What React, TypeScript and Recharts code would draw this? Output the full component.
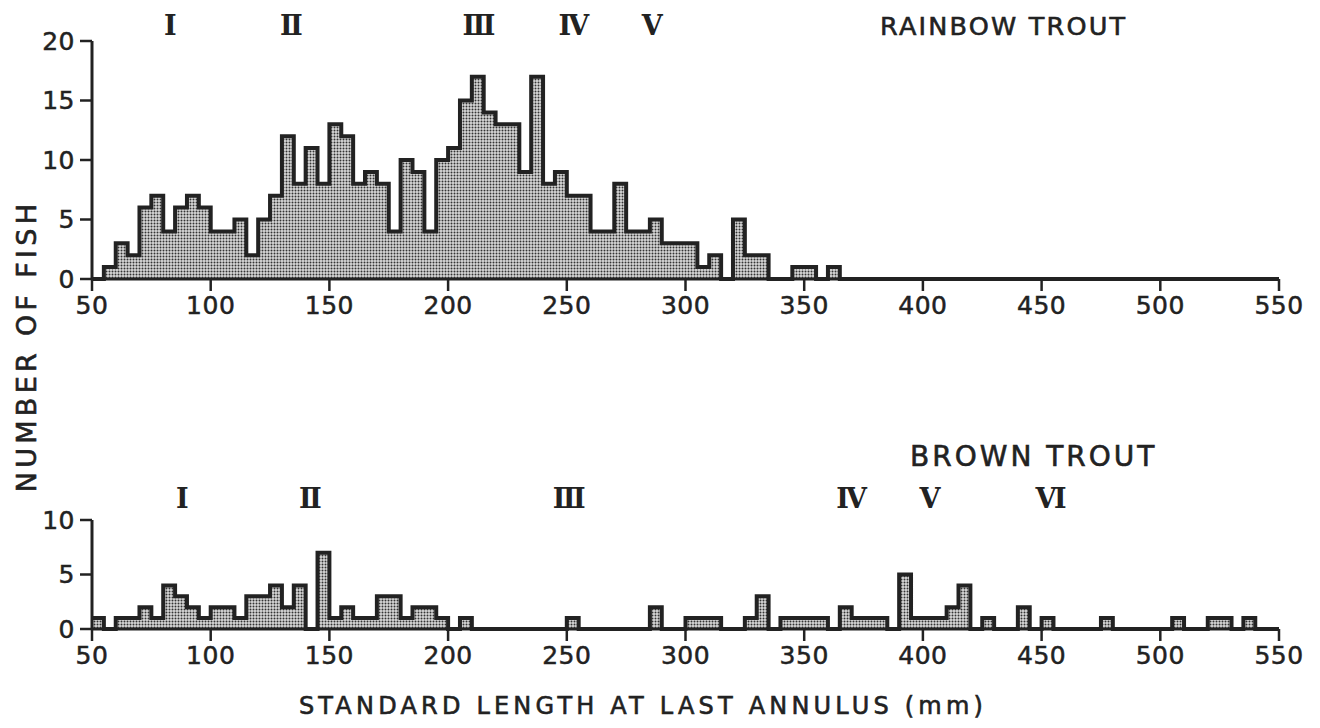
import React from 'react';
import { AreaChart, Area, XAxis, YAxis, ReferenceLine } from 'recharts';

// Bin lower edges (mm), 5 mm bins from 50 to 550
const binEdges: number[] = Array.from({ length: 101 }, (_, i) => 50 + 5 * i);

// Rainbow trout counts per 5-mm bin, starting at 50-55 mm
const rainbowCounts = [
  0, 1, 3, 2, 6, 7, 4, 6, 7, 6,
  4, 4, 5, 2, 5, 7, 12, 8, 11, 8,
  13, 12, 8, 9, 8, 4, 10, 9, 4, 10,
  11, 15, 17, 14, 13, 13, 9, 17, 8, 9,
  7, 7, 4, 4, 8, 4, 4, 5, 3, 3,
  3, 1, 2, 0, 5, 2, 2, 0, 0, 1,
  1, 0, 1, 0, 0, 0, 0, 0, 0, 0,
  0, 0, 0, 0, 0, 0, 0, 0, 0, 0,
  0, 0, 0, 0, 0, 0, 0, 0, 0, 0,
  0, 0, 0, 0, 0, 0, 0, 0, 0, 0,
];

// Brown trout counts per 5-mm bin, starting at 50-55 mm
const brownCounts = [
  1, 0, 1, 1, 2, 1, 4, 3, 2, 1,
  2, 2, 1, 3, 3, 4, 2, 4, 0, 7,
  1, 2, 1, 1, 3, 3, 1, 2, 2, 1,
  0, 1, 0, 0, 0, 0, 0, 0, 0, 0,
  1, 0, 0, 0, 0, 0, 0, 2, 0, 0,
  1, 1, 1, 0, 0, 1, 3, 0, 1, 1,
  1, 1, 0, 2, 1, 1, 1, 0, 5, 1,
  1, 1, 2, 4, 0, 1, 0, 0, 2, 0,
  1, 0, 0, 0, 0, 1, 0, 0, 0, 0,
  0, 1, 0, 0, 1, 1, 0, 1, 0, 0,
];

const xTicks = [50, 100, 150, 200, 250, 300, 350, 400, 450, 500, 550];
const rainbowYTicks = [0, 5, 10, 15, 20];
const brownYTicks = [0, 5, 10];

// Age-class (annulus) markers, in mm
const rainbowAges = [
  { label: 'Ⅰ', x: 83 },
  { label: 'Ⅱ', x: 134 },
  { label: 'Ⅲ', x: 213 },
  { label: 'Ⅳ', x: 253 },
  { label: 'Ⅴ', x: 286 },
];
const brownAges = [
  { label: 'Ⅰ', x: 88 },
  { label: 'Ⅱ', x: 142 },
  { label: 'Ⅲ', x: 251 },
  { label: 'Ⅳ', x: 370 },
  { label: 'Ⅴ', x: 403 },
  { label: 'Ⅵ', x: 454 },
];

const rainbowData = binEdges.map((x, i) => ({ x, n: rainbowCounts[i] ?? 0 }));
const brownData = binEdges.map((x, i) => ({ x, n: brownCounts[i] ?? 0 }));

const INK = '#222';
const FONT = '"DejaVu Sans", sans-serif';
const tickStyle = {
  fontSize: 25,
  fontFamily: FONT,
  fill: INK,
  stroke: INK,
  strokeWidth: 0.5,
  letterSpacing: 0.5,
};

function Dots() {
  return (
    <defs>
      <pattern id="stipple" width="3" height="3" patternUnits="userSpaceOnUse">
        <rect width="3" height="3" fill="#d8d8d8" />
        <circle cx="1.5" cy="1.5" r="1" fill="#333" />
      </pattern>
    </defs>
  );
}

function Panel({
  data,
  yTicks,
  yMax,
  height,
  marginTop,
  ages,
  ageOffset,
}: {
  data: { x: number; n: number }[];
  yTicks: number[];
  yMax: number;
  height: number;
  marginTop: number;
  ages: { label: string; x: number }[];
  ageOffset: number;
}) {
  return (
    <AreaChart
      width={1320}
      height={height}
      data={data}
      margin={{ top: marginTop, right: 41, bottom: 0, left: 0 }}
    >
      {Dots()}
      <XAxis
        dataKey="x"
        type="number"
        domain={[50, 550]}
        ticks={xTicks}
        interval={0}
        height={41}
        tickSize={12}
        tickMargin={5}
        axisLine={{ stroke: INK, strokeWidth: 3 }}
        tickLine={{ stroke: INK, strokeWidth: 2.5 }}
        tick={tickStyle}
      />
      <YAxis
        type="number"
        domain={[0, yMax]}
        ticks={yTicks}
        interval={0}
        width={92}
        tickSize={12}
        tickMargin={5}
        axisLine={{ stroke: INK, strokeWidth: 3 }}
        tickLine={{ stroke: INK, strokeWidth: 2.5 }}
        tick={tickStyle}
      />
      {ages.map((a) => (
        <ReferenceLine
          key={a.label}
          x={a.x}
          stroke="none"
          label={{
            value: a.label,
            position: 'top',
            offset: ageOffset,
            fill: INK,
            fontSize: 27,
            fontFamily: '"DejaVu Serif", serif',
            fontWeight: 'bold',
          }}
        />
      ))}
      <Area
        type="stepAfter"
        dataKey="n"
        stroke={INK}
        strokeWidth={4}
        strokeLinejoin="miter"
        fill="url(#stipple)"
        fillOpacity={1}
        dot={false}
        activeDot={false}
        isAnimationActive={false}
      />
    </AreaChart>
  );
}

export default function App() {
  return (
    <div
      style={{
        position: 'absolute',
        left: 0,
        top: 0,
        width: 1320,
        height: 728,
        background: '#fff',
        overflow: 'hidden',
      }}
    >
      <div style={{ position: 'absolute', left: 0, top: 0 }}>
        <Panel
          data={rainbowData}
          yTicks={rainbowYTicks}
          yMax={20}
          height={320}
          marginTop={41}
          ages={rainbowAges}
          ageOffset={6}
        />
      </div>
      <div style={{ position: 'absolute', left: 0, top: 440 }}>
        <Panel
          data={brownData}
          yTicks={brownYTicks}
          yMax={10}
          height={230}
          marginTop={80}
          ages={brownAges}
          ageOffset={12}
        />
      </div>
      <svg
        width={1320}
        height={728}
        style={{ position: 'absolute', left: 0, top: 0, pointerEvents: 'none' }}
      >
        <g fill={INK} stroke={INK} strokeWidth={0.6} fontFamily={FONT}>
          <text x={880} y={35} fontSize={25.5} letterSpacing={2.2}>
            RAINBOW TROUT
          </text>
          <text x={910} y={466} fontSize={28} letterSpacing={3}>
            BROWN TROUT
          </text>
          <text x={643} y={714} textAnchor="middle" fontSize={24} letterSpacing={4.2}>
            STANDARD LENGTH AT LAST ANNULUS (mm)
          </text>
          <text
            x={0}
            y={0}
            transform="translate(36,346) rotate(-90)"
            textAnchor="middle"
            fontSize={27}
            letterSpacing={4.3}
          >
            NUMBER OF FISH
          </text>
        </g>
      </svg>
    </div>
  );
}
